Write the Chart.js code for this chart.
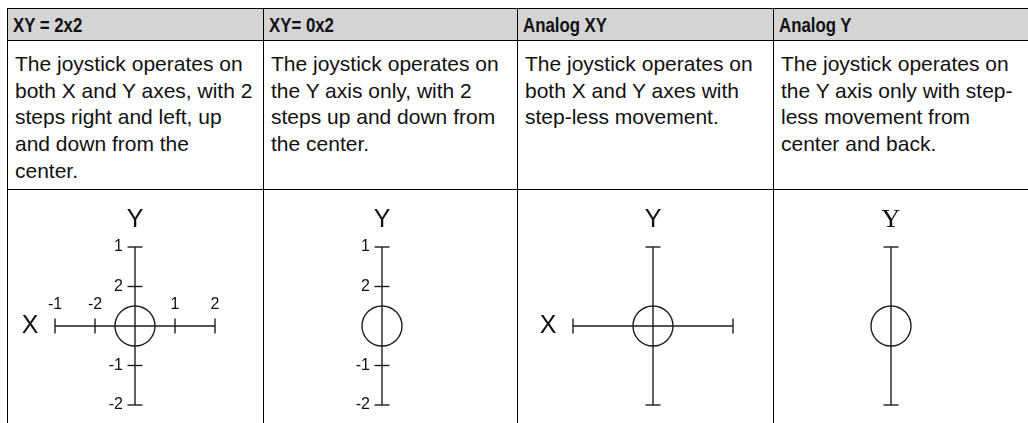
<!DOCTYPE html>
<html>
<head>
<meta charset="utf-8">
<script src="https://cdn.jsdelivr.net/npm/chart.js@4/dist/chart.umd.min.js"></script>
<style>
  html, body { margin: 0; padding: 0; background: #fff; }
  body { width: 1028px; height: 423px; overflow: hidden; position: relative; font-family: "Liberation Sans", Arial, sans-serif; color: #111; }
  #grid {
    position: absolute; left: 7px; top: 8px;
    display: grid;
    grid-template-columns: 256px 254px 256px 258px;
    grid-template-rows: 32px 149px 240px;
  }
  .cell { box-sizing: border-box; border-left: 1.5px solid #000; border-top: 1.5px solid #000; overflow: hidden; white-space: nowrap; }
  .head { background: #d4d4d4; line-height: 31px; padding-left: 5px; }
  .head span { display: inline-block; font-weight: bold; font-size: 21px; transform: scaleX(0.8); transform-origin: left center; }
  .desc { font-size: 21px; line-height: 26.7px; padding: 10px 0 0 7px; }
  canvas.joy { position: absolute; top: 189px; }
</style>
</head>
<body>
<div id="grid"></div>
<script>
// table text
const headers = ['XY = 2x2', 'XY= 0x2', 'Analog XY', 'Analog Y'];
const descriptions = [
    ['The joystick operates on', 'both X and Y axes, with 2', 'steps right and left, up', 'and down from the', 'center.'],
    ['The joystick operates on', 'the Y axis only, with 2', 'steps up and down from', 'the center.'],
    ['The joystick operates on', 'both X and Y axes with', 'step-less movement.'],
    ['The joystick operates on', 'the Y axis only with step-', 'less movement from', 'center and back.']
];

// joystick steps, counted from the centre, and the numbers printed beside them
const xSteps = [-2, -1, 1, 2];
const xStepLabels = ['-1', '-2', '1', '2'];
const ySteps = [2, 1, -1, -2];
const yStepLabels = ['1', '2', '-1', '-2'];
const analogEnds = [-2, 2];

// per column: how each axis moves ('step', 'analog' or none)
const xAxisMode = ['step', null, 'analog', null];
const yAxisMode = ['step', 'step', 'analog', 'analog'];
const knobRadius = 0.5; // in steps

// layout (pixels)
const colLefts = [7, 263, 517, 773];
const colWidths = [256, 254, 256, 255];
const centreX = [135, 382, 653, 891];
const rowTop = 189, rowHeight = 234, centreY = 326;
const pxPerStepX = 40, pxPerStepY = 39.5;
const lineColor = '#1e1e1e';
const letterFonts = ['25px "Liberation Sans", Arial', '25px "Liberation Sans", Arial', '25px "Liberation Sans", Arial', '26px "Liberation Serif", "Times New Roman", serif'];

const grid = document.getElementById('grid');
headers.forEach(h => {
    const c = document.createElement('div');
    c.className = 'cell head';
    const s = document.createElement('span');
    s.textContent = h;
    c.appendChild(s);
    grid.appendChild(c);
});
descriptions.forEach(lines => {
    const c = document.createElement('div');
    c.className = 'cell desc';
    c.innerHTML = lines.join('<br>');
    grid.appendChild(c);
});
headers.forEach(() => {
    const c = document.createElement('div');
    c.className = 'cell';
    grid.appendChild(c);
});

const labelPlugin = {
    id: 'joyLabels',
    afterDatasetsDraw(chart, args, opts) {
        const ctx = chart.ctx;
        const x = chart.scales.x, y = chart.scales.y;
        const cx = x.getPixelForValue(0), cy = y.getPixelForValue(0);
        ctx.save();
        ctx.fillStyle = '#111';
        ctx.font = '16px "Liberation Sans", Arial, sans-serif';
        if (opts.yMode === 'step') {
            ctx.textAlign = 'right';
            ctx.textBaseline = 'middle';
            ySteps.forEach((v, i) => ctx.fillText(yStepLabels[i], cx - 12, y.getPixelForValue(v)));
        }
        if (opts.xMode === 'step') {
            ctx.textAlign = 'center';
            ctx.textBaseline = 'middle';
            xSteps.forEach((v, i) => ctx.fillText(xStepLabels[i], x.getPixelForValue(v), cy - 21));
        }
        ctx.font = opts.letterFont;
        ctx.textAlign = 'center';
        ctx.textBaseline = 'middle';
        ctx.fillText('Y', cx, y.getPixelForValue(2.68));
        if (opts.xMode) {
            ctx.fillText('X', x.getPixelForValue(-2.62), cy);
        }
        ctx.restore();
    }
};

function buildDatasets(xMode, yMode) {
    const sets = [];
    const line = (data) => ({
        data, showLine: true, pointRadius: 0,
        borderColor: lineColor, borderWidth: 1.4
    });
    const marks = (data, rotation) => ({
        data, showLine: false, pointStyle: 'line', pointRadius: 7.5,
        rotation, borderColor: lineColor, borderWidth: 1.4
    });
    if (xMode) {
        sets.push(line(analogEnds.map(v => ({ x: v, y: 0 }))));
        const xs = xMode === 'step' ? xSteps : analogEnds;
        sets.push(marks(xs.map(v => ({ x: v, y: 0 })), 90));
    }
    sets.push(line(analogEnds.map(v => ({ x: 0, y: v }))));
    const ys = yMode === 'step' ? ySteps : analogEnds;
    sets.push(marks(ys.map(v => ({ x: 0, y: v })), 0));
    // the knob
    sets.push({
        data: [{ x: 0, y: 0 }], showLine: false, pointStyle: 'circle',
        pointRadius: knobRadius * pxPerStepX, backgroundColor: 'rgba(0,0,0,0)',
        borderColor: lineColor, borderWidth: 1.4
    });
    return sets;
}

headers.forEach((h, i) => {
    const canvas = document.createElement('canvas');
    canvas.className = 'joy';
    canvas.width = colWidths[i];
    canvas.height = rowHeight;
    canvas.style.left = colLefts[i] + 'px';
    document.body.appendChild(canvas);

    const off = centreX[i] - colLefts[i];
    new Chart(canvas, {
        type: 'scatter',
        data: { datasets: buildDatasets(xAxisMode[i], yAxisMode[i]) },
        options: {
            responsive: false,
            animation: false,
            events: [],
            layout: { padding: 0, autoPadding: false },
            plugins: {
                legend: { display: false },
                tooltip: { enabled: false },
                joyLabels: { xMode: xAxisMode[i], yMode: yAxisMode[i], letterFont: letterFonts[i] }
            },
            scales: {
                x: { type: 'linear', display: false, min: -off / pxPerStepX, max: (colWidths[i] - off) / pxPerStepX },
                y: { type: 'linear', display: false,
                     min: -(rowTop + rowHeight - centreY) / pxPerStepY, max: (centreY - rowTop) / pxPerStepY }
            }
        },
        plugins: [labelPlugin]
    });
});
</script>
</body>
</html>
